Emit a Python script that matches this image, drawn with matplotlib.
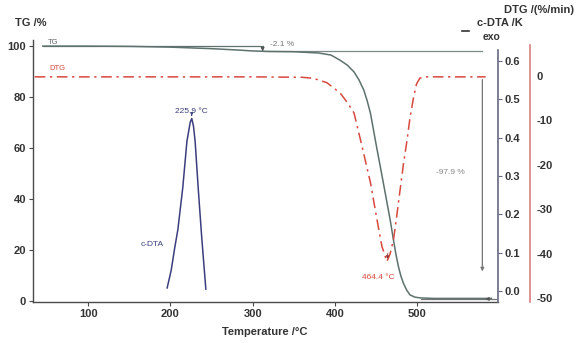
"""
plot.py -- TG / DTG / c-DTA thermogram, three y axes on a shared temperature axis.
"""
import matplotlib
matplotlib.use("Agg")
import matplotlib.pyplot as plt
from matplotlib.lines import Line2D

plt.rcParams["font.family"] = ["Liberation Sans", "DejaVu Sans"]
plt.rcParams["axes.unicode_minus"] = False

# TG mass curve (%)
TG_T = [45, 100, 150, 200, 250, 280, 300, 320, 350, 380, 395, 406, 415, 423, 429, 435,
        439, 443, 446, 449, 452, 455, 458, 461, 464, 467, 471, 474, 477, 480, 483, 487,
        491, 497, 504, 520, 590]
TG_V = [100, 100, 99.9, 99.6, 99.0, 98.5, 98.1, 97.9, 97.8, 97.3, 96.5, 94.5, 92.5, 89.9, 86.8,
        82.7, 78.6, 73.7, 68.4, 63.0, 57.8, 52.7, 47.5, 42.3, 37.0, 31.8, 23.9, 18.3, 13.5,
        9.8, 7.0, 4.3, 2.4, 1.5, 1.2, 1.0, 1.0]

# DTG curve (%/min)
DTG_T = [35, 100, 200, 300, 360, 373, 390, 406, 415, 423, 433, 443, 451, 457, 463, 467,
         471, 475, 479, 483, 487.5, 491, 495.5, 499, 503, 508, 540, 583]
DTG_V = [-0.2, -0.2, -0.2, -0.2, -0.3, -0.5, -1.5, -3.8, -6.0, -8.3, -16.0, -24.0, -32.4,
         -38.4, -41.8, -40.0, -36.9, -31.5, -25.7, -20.0, -14.4, -9.5, -4.7, -1.8, -0.5,
         -0.2, -0.2, -0.2]

# c-DTA peak (K)
DTA_T = [196, 201, 205, 209, 215, 220, 224, 225.9, 228, 230, 234, 238, 243]
DTA_V = [0.008, 0.055, 0.11, 0.16, 0.27, 0.39, 0.44, 0.45, 0.43, 0.39, 0.26, 0.14, 0.005]

TG_TICKS = [0, 20, 40, 60, 80, 100]
DTA_TICKS = [0.0, 0.1, 0.2, 0.3, 0.4, 0.5, 0.6]
DTG_TICKS = [0, -10, -20, -30, -40, -50]
T_TICKS = [100, 200, 300, 400, 500]

# step annotations
STEP1 = {"T": 312, "top": 100.0, "bottom": 97.9, "label": "-2.1 %"}
STEP2 = {"T": 579, "top": 88.0, "bottom": 10.5, "label": "-97.9 %"}
RESIDUE = 0.8
DTA_PEAK = (225.9, 0.45, "225.9 °C")
DTG_PEAK = (463.0, -41.8, "464.4 °C")

C_TG = "#5d716d"
C_DTG = "#d8483f"
C_DTA = "#3b3e7e"
C_AX = "#4a4a4a"
C_TXT = "#333333"

W, H = 576, 343
fig = plt.figure(figsize=(W / 100, H / 100), dpi=100)
L, R, B, T = 33, 498, 302, 40
ax = fig.add_axes([L / W, 1 - B / H, (R - L) / W, (B - T) / H])

ax.plot(TG_T, TG_V, color=C_TG, lw=1.1, zorder=3)
ax.set_xlim(33, 598)
ax.set_ylim(-0.4, 102.4)
ax.set_xticks(T_TICKS)
ax.set_yticks(TG_TICKS)
for s in ["top", "right"]:
    ax.spines[s].set_visible(False)
for s in ["left", "bottom"]:
    ax.spines[s].set_color(C_AX)
    ax.spines[s].set_linewidth(1.0)
ax.tick_params(direction="out", length=3, width=0.8, colors=C_AX, labelcolor=C_TXT,
               labelsize=8, pad=2)
for lab in ax.get_xticklabels() + ax.get_yticklabels():
    lab.set_fontweight("bold")
ax.set_xlabel("Temperature /°C", fontsize=8, fontweight="bold", color=C_TXT)
ax.xaxis.set_label_coords((265 - L) / (R - L), -0.095)

# c-DTA axis
ax2 = ax.twinx()
ax2.plot(DTA_T, DTA_V, color=C_DTA, lw=1.1)
ax2.set_ylim(-0.0287, 0.6548)
ax2.set_yticks(DTA_TICKS)
ax2.set_yticklabels([f"{v:.1f}" for v in DTA_TICKS])
for s in ["top", "left", "bottom"]:
    ax2.spines[s].set_visible(False)
ax2.spines["right"].set_color("#666a80")
ax2.spines["right"].set_linewidth(1.2)
ax2.spines["right"].set_bounds(-0.0287, 0.63)
ax2.tick_params(direction="out", length=3, width=0.8, colors="#666a80", labelcolor=C_TXT,
                labelsize=8, pad=2)
for lab in ax2.get_yticklabels():
    lab.set_fontweight("bold")

# DTG axis
ax3 = ax.twinx()
ax3.plot(DTG_T, DTG_V, color=C_DTG, lw=1.1, dashes=(7, 3, 1.5, 3))
ax3.set_ylim(-50.9, 8.1)
ax3.set_yticks(DTG_TICKS)
for s in ["top", "left", "bottom"]:
    ax3.spines[s].set_visible(False)
ax3.spines["right"].set_position(("axes", (530 - L) / (R - L)))
ax3.spines["right"].set_color("#d98080")
ax3.spines["right"].set_linewidth(1.2)
ax3.spines["right"].set_bounds(-50.9, 7.0)
ax3.tick_params(direction="out", length=0, colors="#d98080", labelcolor=C_TXT,
                labelsize=8, pad=5)
for lab in ax3.get_yticklabels():
    lab.set_fontweight("bold")

# step annotations on TG
ax.plot([45, STEP1["T"]], [STEP1["top"], STEP1["top"]], color=C_TG, lw=0.9)
ax.plot([STEP1["T"], STEP2["T"]], [STEP1["bottom"], STEP1["bottom"]], color="#7a8a87", lw=0.9)
ax.annotate("", xy=(STEP1["T"], STEP1["bottom"]), xytext=(STEP1["T"], STEP1["top"]),
            arrowprops=dict(arrowstyle="-|>", color="#555", lw=0.8, mutation_scale=5))
ax.text(336, 100.8, STEP1["label"], fontsize=6, color="#777777", ha="center", va="center")

ax.annotate("", xy=(STEP2["T"], STEP2["bottom"]), xytext=(STEP2["T"], STEP2["top"]),
            arrowprops=dict(arrowstyle="-|>", color="#777", lw=0.9, mutation_scale=5))
ax.plot([504, 595], [RESIDUE, RESIDUE], color="#777", lw=0.9)
ax.annotate("", xy=(STEP2["T"], RESIDUE), xytext=(STEP2["T"] + 10, RESIDUE),
            arrowprops=dict(arrowstyle="-|>", color="#555", lw=0.8, mutation_scale=5))
ax.text(540, 50.6, STEP2["label"], fontsize=6, color="#888888", ha="center", va="center")

# curve labels
ax.text(57, 101.6, "TG", fontsize=5.5, color="#666666", ha="center", va="center")
ax.text(63, 91.4, "DTG", fontsize=5.5, color=C_DTG, ha="center", va="center")
ax.text(178, 22, "c-DTA", fontsize=6, color=C_DTA, ha="center", va="center")

# peak labels
ax2.annotate("", xy=(DTA_PEAK[0], DTA_PEAK[1]), xytext=(DTA_PEAK[0], DTA_PEAK[1] + 0.015),
             arrowprops=dict(arrowstyle="-|>", color=C_DTA, lw=0.6, mutation_scale=4))
ax2.text(DTA_PEAK[0], DTA_PEAK[1] + 0.01, DTA_PEAK[2], fontsize=6, color=C_DTA,
         ha="center", va="bottom")
ax3.annotate("", xy=(DTG_PEAK[0], DTG_PEAK[1]), xytext=(DTG_PEAK[0] + 1.5, DTG_PEAK[1] + 2.5),
             arrowprops=dict(arrowstyle="-|>", color="#8a3030", lw=0.6, mutation_scale=4))
ax3.text(452.6, DTG_PEAK[1] - 3.6, DTG_PEAK[2], fontsize=6, color=C_DTG,
         ha="center", va="center")

# axis titles
fig.text(15 / W, 1 - 23 / H, "TG /%", fontsize=8, fontweight="bold", color=C_TXT,
         ha="left", va="center")
fig.text(574 / W, 1 - 10 / H, "DTG /(%/min)", fontsize=8, fontweight="bold", color=C_TXT,
         ha="right", va="center")
fig.text(477 / W, 1 - 23 / H, "c-DTA /K", fontsize=8, fontweight="bold", color=C_TXT,
         ha="left", va="center")
fig.text(483 / W, 1 - 37 / H, "exo", fontsize=7.5, fontweight="bold", color=C_TXT,
         ha="left", va="center")
fig.add_artist(Line2D([462 / W, 469 / W], [1 - 31 / H, 1 - 31 / H], color=C_TXT, lw=1.2))

fig.savefig("out.png", dpi=100)
